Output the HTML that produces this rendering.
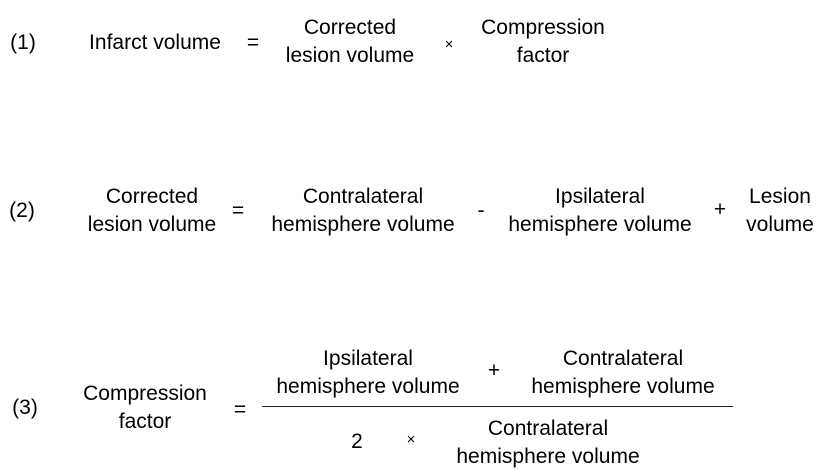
<!DOCTYPE html>
<html><head><meta charset="utf-8"><style>
body{margin:0;width:822px;height:473px;background:#fff;position:relative;overflow:hidden;font-family:"Liberation Sans",sans-serif;font-size:21px;color:#000}
.t{position:absolute;transform:translate(-50%,-50%);text-align:center;line-height:28px;white-space:nowrap}
.s{font-size:15px}
</style></head><body>
<div class="t" style="left:23px;top:43px">(1)</div>
<div class="t" style="left:155px;top:43px">Infarct volume</div>
<div class="t" style="left:253px;top:43px">=</div>
<div class="t" style="left:350px;top:42px">Corrected<br>lesion volume</div>
<div class="t s" style="left:449px;top:45px">×</div>
<div class="t" style="left:543px;top:42px">Compression<br>factor</div>

<div class="t" style="left:22px;top:211px">(2)</div>
<div class="t" style="left:152px;top:211px">Corrected<br>lesion volume</div>
<div class="t" style="left:238px;top:211px">=</div>
<div class="t" style="left:363px;top:211px">Contralateral<br>hemisphere volume</div>
<div class="t" style="left:481px;top:211px">-</div>
<div class="t" style="left:600px;top:211px">Ipsilateral<br>hemisphere volume</div>
<div class="t" style="left:720px;top:210px">+</div>
<div class="t" style="left:780px;top:211px">Lesion<br>volume</div>

<div class="t" style="left:25px;top:408px">(3)</div>
<div class="t" style="left:145px;top:408px">Compression<br>factor</div>
<div class="t" style="left:240px;top:410px">=</div>
<div class="t" style="left:368px;top:373px">Ipsilateral<br>hemisphere volume</div>
<div class="t" style="left:494px;top:371px">+</div>
<div class="t" style="left:623px;top:373px">Contralateral<br>hemisphere volume</div>
<div style="position:absolute;left:262px;top:406px;width:471px;height:1.2px;background:#222"></div>
<div class="t" style="left:357px;top:442px">2</div>
<div class="t s" style="left:411px;top:440px">×</div>
<div class="t" style="left:548px;top:443px">Contralateral<br>hemisphere volume</div>
</body></html>
